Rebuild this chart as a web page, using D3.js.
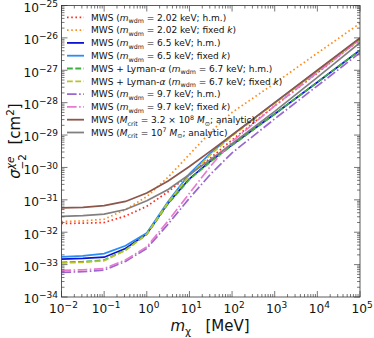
<!DOCTYPE html>
<html>
<head>
<meta charset="utf-8">
<script src="https://cdn.jsdelivr.net/npm/d3@7"></script>
<style>
  body { margin: 0; background: #fff; }
  svg { font-family: "DejaVu Sans", sans-serif; }
</style>
</head>
<body>
<svg id="chart" width="374" height="338"></svg>
<script>
// log10 of m_chi in MeV, where each curve is sampled
var logMass = [-2, -1.5, -1, -0.5, 0, 0.5, 1, 1.5, 2, 3, 4, 5];

// log10 of sigma [cm^2]
var red2hm     = [-31.73, -31.72, -31.70, -31.50, -31.20, -30.75, -30.22, -29.70, -29.15, -28.10, -27.08, -26.05];
var orange2fk  = [-31.67, -31.65, -31.60, -31.30, -30.90, -30.30, -29.60, -28.90, -28.30, -27.40, -26.47, -25.55];
var blue65hm   = [-32.83, -32.81, -32.77, -32.50, -32.05, -31.10, -30.35, -29.80, -29.30, -28.35, -27.37, -26.38];
var lblue65fk  = [-32.76, -32.73, -32.66, -32.42, -32.02, -31.05, -30.20, -29.55, -29.00, -28.00, -27.01, -26.02];
var green67hm  = [-32.93, -32.91, -32.86, -32.55, -32.07, -31.12, -30.37, -29.82, -29.32, -28.35, -27.37, -26.38];
var yellow67fk = [-32.95, -32.93, -32.88, -32.56, -32.06, -31.08, -30.25, -29.60, -29.03, -28.02, -27.04, -26.05];
var purple97hm = [-33.24, -33.22, -33.17, -32.90, -32.50, -31.75, -30.95, -30.20, -29.55, -28.50, -27.48, -26.46];
var pink97fk   = [-33.18, -33.16, -33.12, -32.86, -32.45, -31.65, -30.80, -29.95, -29.20, -28.10, -27.07, -26.05];
var brownMc    = [-31.25, -31.23, -31.18, -31.05, -30.79, -30.42, -29.97, -29.49, -29.00, -28.00, -27.00, -26.00];
var grayMc     = [-31.51, -31.49, -31.44, -31.30, -31.03, -30.68, -30.22, -29.75, -29.27, -28.27, -27.22, -26.15];

// legend labels: *..* italic, _{..} subscript, ^{..} superscript
var labels = [
  "MWS (*m*_{wdm} = 2.02 keV; h.m.)",
  "MWS (*m*_{wdm} = 2.02 keV; fixed *k*)",
  "MWS (*m*_{wdm} = 6.5 keV; h.m.)",
  "MWS (*m*_{wdm} = 6.5 keV; fixed *k*)",
  "MWS + Lyman-*α* (*m*_{wdm} = 6.7 keV; h.m.)",
  "MWS + Lyman-*α* (*m*_{wdm} = 6.7 keV; fixed *k*)",
  "MWS (*m*_{wdm} = 9.7 keV; h.m.)",
  "MWS (*m*_{wdm} = 9.7 keV; fixed *k*)",
  "MWS (*M*_{crit} = 3.2 × 10^{8} *M*_{⊙}; analytic)",
  "MWS (*M*_{crit} = 10^{7} *M*_{⊙}; analytic)"
];
var values = [red2hm, orange2fk, blue65hm, lblue65fk, green67hm, yellow67fk, purple97hm, pink97fk, brownMc, grayMc];
var colors = ["#ff2a1f", "#ff8c1a", "#0a14d2", "#2a8cf5", "#3cb03c", "#bcc32a", "#9a66cf", "#e87ad0", "#8c564b", "#808080"];
var dashes = ["1.6,2.6", "1.6,2.6", null, null, "5.8,2.5", "5.8,2.5", "9.6,2.5,1.6,2.5", "9.6,2.5,1.6,2.5", null, null];

var yTickExp = [-34, -33, -32, -31, -30, -29, -28, -27, -26, -25];
var xTickExp = [-2, -1, 0, 1, 2, 3, 4, 5];

var plotL = 61.5, plotR = 360, plotT = 5.5, plotB = 297;
var svg = d3.select("#chart");

var x = d3.scaleLog().domain([1e-2, 1e5]).range([plotL, plotR]);
var y = d3.scaleLog().domain([1e-34, 1e-25]).range([plotB, plotT]);

svg.append("defs").append("clipPath").attr("id", "clip")
  .append("rect").attr("x", plotL).attr("y", plotT)
  .attr("width", plotR - plotL).attr("height", plotB - plotT);

// curves
var line = d3.line()
  .x(function (d) { return x(Math.pow(10, d[0])); })
  .y(function (d) { return y(Math.pow(10, d[1])); });

var series = values.map(function (v, i) {
  return { pts: logMass.map(function (m, j) { return [m, v[j]]; }), color: colors[i], dash: dashes[i] };
});

svg.append("g").attr("clip-path", "url(#clip)")
  .selectAll("path").data(series).enter().append("path")
  .attr("d", function (d) { return line(d.pts); })
  .attr("fill", "none")
  .attr("stroke", function (d) { return d.color; })
  .attr("stroke-width", 1.7)
  .attr("stroke-dasharray", function (d) { return d.dash; });

// ticks, all pointing in
var tk = svg.append("g").attr("stroke", "#555").attr("stroke-width", 0.8);
function isMajor(t) { return Math.abs(Math.log10(t) - Math.round(Math.log10(t))) < 1e-9; }
x.ticks().forEach(function (t) {
  var len = isMajor(t) ? 6 : 3, px = x(t);
  tk.append("line").attr("x1", px).attr("x2", px).attr("y1", plotB).attr("y2", plotB - len);
  tk.append("line").attr("x1", px).attr("x2", px).attr("y1", plotT).attr("y2", plotT + len);
});
y.ticks(90).forEach(function (t) {
  var len = isMajor(t) ? 6 : 3, py = y(t);
  tk.append("line").attr("y1", py).attr("y2", py).attr("x1", plotL).attr("x2", plotL + len);
  tk.append("line").attr("y1", py).attr("y2", py).attr("x1", plotR).attr("x2", plotR - len);
});

svg.append("rect").attr("x", plotL).attr("y", plotT)
  .attr("width", plotR - plotL).attr("height", plotB - plotT)
  .attr("fill", "none").attr("stroke", "#333").attr("stroke-width", 0.8);

// tick labels
function powLabel(g, e) {
  g.append("tspan").text("10");
  g.append("tspan").attr("dy", -5).attr("font-size", 9).text(e < 0 ? "\u2212" + (-e) : e);
}
yTickExp.forEach(function (e) {
  var t = svg.append("text").attr("x", plotL - 3.5).attr("y", y(Math.pow(10, e)) + 6.3)
    .attr("text-anchor", "end").attr("font-size", 12.2).attr("fill", "#111");
  powLabel(t, e);
});
xTickExp.forEach(function (e) {
  var t = svg.append("text").attr("x", x(Math.pow(10, e)) + 2).attr("y", plotB + 16)
    .attr("text-anchor", "middle").attr("font-size", 12.2).attr("fill", "#111");
  powLabel(t, e);
});

// rich text helper
function rich(t, s, size) {
  var re = /\*([^*]+)\*|_\{([^}]*)\}|\^\{([^}]*)\}|([^*_^]+)/g, m, shift = 0;
  while ((m = re.exec(s)) !== null) {
    var sp = t.append("tspan");
    var want = 0;
    if (m[1]) { sp.attr("font-style", "italic").text(m[1]); }
    else if (m[2]) { sp.attr("font-size", size * 0.7).text(m[2]); want = size * 0.28; }
    else if (m[3]) { sp.attr("font-size", size * 0.7).text(m[3]); want = -size * 0.38; }
    else { sp.text(m[4]); }
    if (want !== shift) { sp.attr("dy", want - shift); shift = want; }
  }
}

// legend
var lg = svg.append("g");
labels.forEach(function (lab, i) {
  var ly = 17.3 + i * 12.8;
  lg.append("line").attr("x1", 67).attr("x2", 84).attr("y1", ly).attr("y2", ly)
    .attr("stroke", colors[i]).attr("stroke-width", 1.8)
    .attr("stroke-dasharray", dashes[i]);
  var t = lg.append("text").attr("x", 91).attr("y", ly + 3.3)
    .attr("font-size", 9).attr("fill", "#111");
  rich(t, lab, 9);
});

// axis labels
var xl = svg.append("text").attr("x", 210).attr("y", 331).attr("text-anchor", "middle")
  .attr("font-size", 15).attr("fill", "#111");
rich(xl, "*m*_{χ}\u00a0\u00a0\u00a0[MeV]", 15);

var yl = svg.append("text").attr("transform", "translate(20,141) rotate(-90)")
  .attr("text-anchor", "middle").attr("font-size", 15).attr("fill", "#111");
rich(yl, "*σ*", 15);
yl.append("tspan").attr("font-size", 10.5).attr("font-style", "italic").attr("dy", -6.5).text("χe");
yl.append("tspan").attr("font-size", 10.5).attr("dx", -13).attr("dy", 12).text("\u22122");
yl.append("tspan").attr("dy", -5.5).text("\u00a0\u00a0[cm");
yl.append("tspan").attr("font-size", 10.5).attr("dy", -6).text("2");
yl.append("tspan").attr("dy", 6).text("]");
</script>
</body>
</html>
